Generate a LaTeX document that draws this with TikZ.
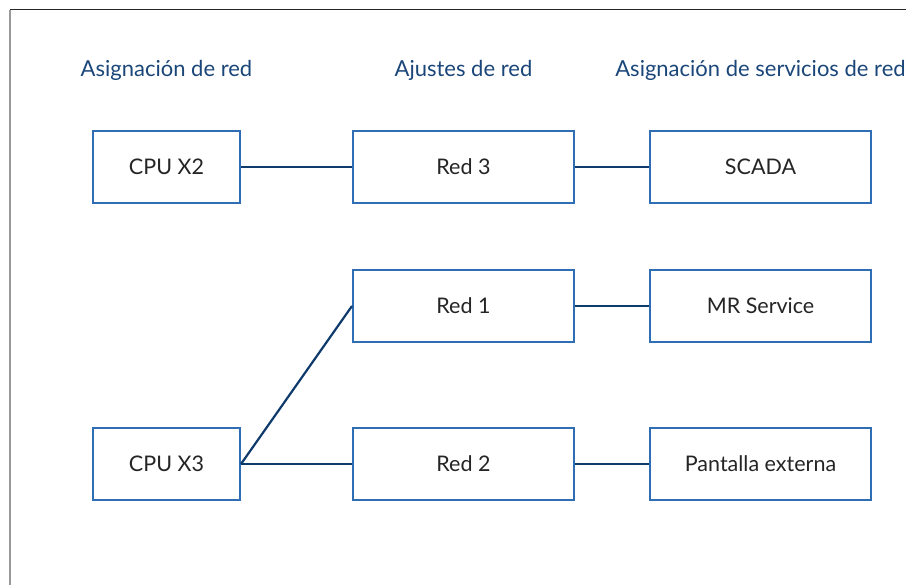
\documentclass[tikz,border=0pt]{standalone}
\usepackage{fontspec}
\setmainfont{Lato}
\definecolor{boxblue}{HTML}{2F6EB5}
\definecolor{linenavy}{HTML}{0E3A6C}
\definecolor{headblue}{HTML}{1B4679}
\definecolor{txtgray}{HTML}{252525}
\begin{document}
\begin{tikzpicture}[x=1pt,y=-1pt,
  boxnode/.style={draw=boxblue,line width=2pt,fill=white,inner sep=0pt,
    font=\fontsize{21.5}{25}\selectfont\color{txtgray}},
  smallbox/.style={boxnode,minimum width=147pt,minimum height=72pt},
  widebox/.style={boxnode,minimum width=221pt,minimum height=72pt},
  header/.style={font=\fontsize{22}{26}\selectfont\color{headblue},inner sep=0pt},
  link/.style={draw=linenavy,line width=2.2pt}]
\useasboundingbox (0,0) rectangle (906,585);
\draw[line width=1pt,black!85] (10,10) coordinate (ftl) -- (906,10) coordinate (ftr);
\draw[line width=1.5pt,black!40] (ftl) -- (10,585) coordinate (fbl);
\node[header] (h1) at (166.5,70) {Asignación de red};
\node[header] (h2) at (463.5,70) {Ajustes de red};
\node[header] (h3) at (760.5,70) {Asignación de servicios de red};
\node[smallbox] (cpu2) at (166.5,167) {CPU X2};
\node[widebox] (red3) at (463.5,167) {Red 3};
\node[widebox] (scada) at (760.5,167) {SCADA};
\node[widebox] (red1) at (463.5,306) {Red 1};
\node[widebox] (mr) at (760.5,306) {MR Service};
\node[smallbox] (cpu3) at (166.5,464) {CPU X3};
\node[widebox] (red2) at (463.5,464) {Red 2};
\node[widebox] (pant) at (760.5,464) {Pantalla externa};
\draw[link] (cpu2.east) -- (red3.west);
\draw[link] (red3.east) -- (scada.west);
\draw[link] (red1.east) -- (mr.west);
\draw[link] (cpu3.east) -- (red1.west);
\draw[link] (cpu3.east) -- (red2.west);
\draw[link] (red2.east) -- (pant.west);
\end{tikzpicture}
\end{document}
